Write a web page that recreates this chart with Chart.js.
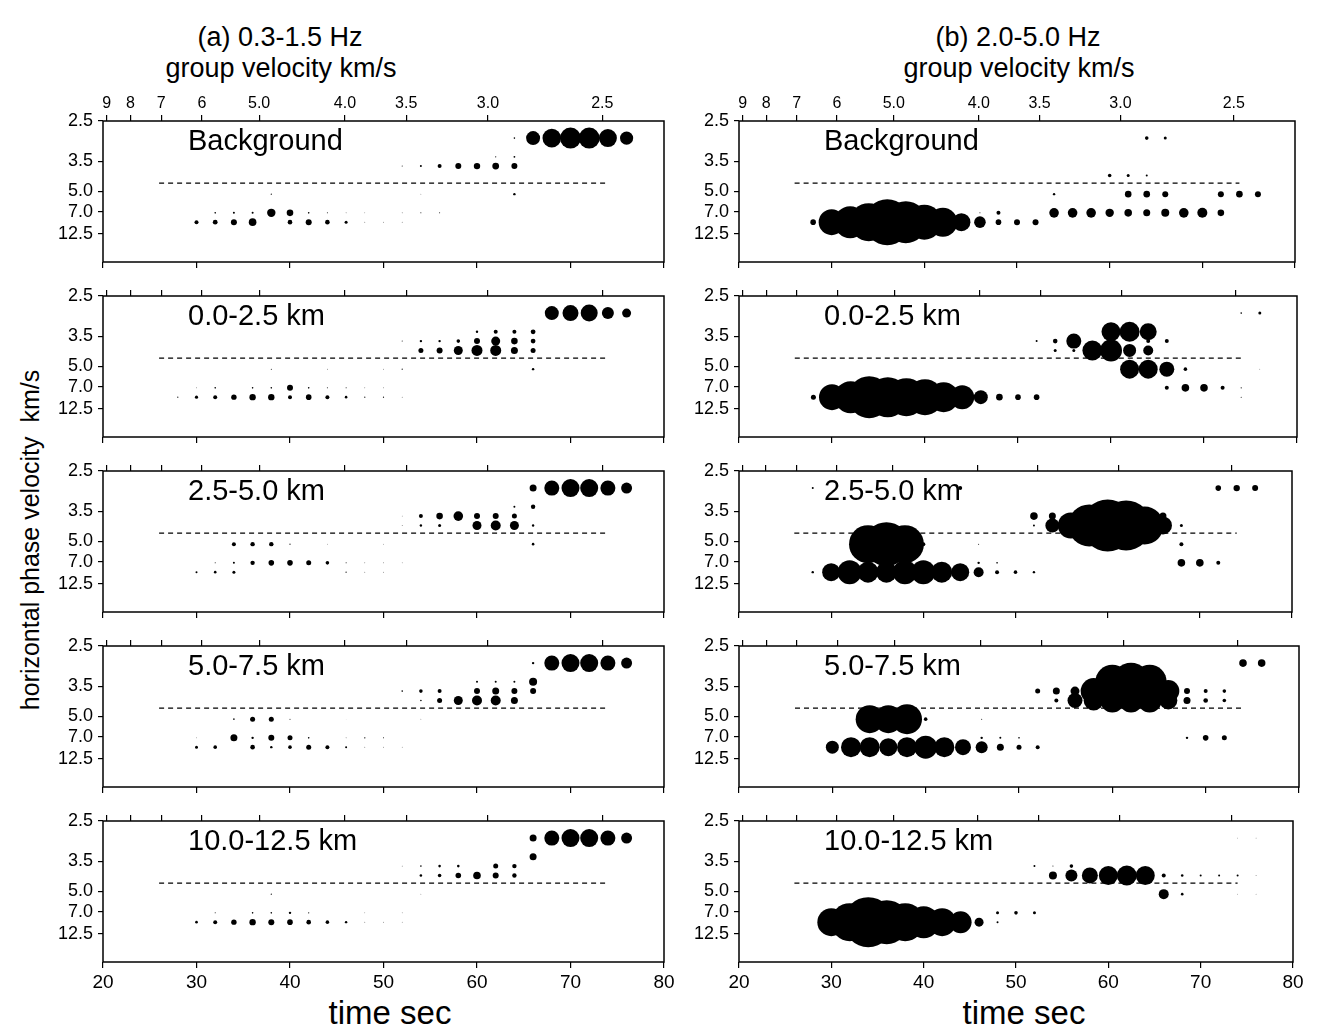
<!DOCTYPE html>
<html>
<head>
<meta charset="utf-8">
<script src="https://cdn.jsdelivr.net/npm/chart.js@4/dist/chart.umd.min.js"></script>
<style>
  html, body { margin: 0; padding: 0; background: #fff; }
  body { width: 1322px; height: 1027px; position: relative; overflow: hidden;
         font-family: "Liberation Sans", Arial, Helvetica, sans-serif; color: #000; }
  .txt { position: absolute; white-space: nowrap; transform: translate(-50%, -50%); line-height: 1; }
  canvas { position: absolute; }
</style>
</head>
<body>
<div class="txt" style="left:280px; top:37px; font-size:27px;">(a) 0.3-1.5 Hz</div>
<div class="txt" style="left:281px; top:68px; font-size:27px;">group velocity km/s</div>
<div class="txt" style="left:1018px; top:37px; font-size:27px;">(b) 2.0-5.0 Hz</div>
<div class="txt" style="left:1019px; top:68px; font-size:27px;">group velocity km/s</div>
<div class="txt" style="left:30px; top:540px; font-size:25px; transform: translate(-50%,-50%) rotate(-90deg);">horizontal phase velocity&nbsp; km/s</div>
<div class="txt" style="left:390px; top:1012px; font-size:33px;">time sec</div>
<div class="txt" style="left:1024px; top:1012px; font-size:33px;">time sec</div>

<script>
// ---------------- data ----------------
const TIME_TICKS = [20, 30, 40, 50, 60, 70, 80];
const GROUP_VEL_TICKS = [9, 8, 7, 6, 5.0, 4.0, 3.5, 3.0, 2.5];
const GROUP_VEL_LABELS = ['9', '8', '7', '6', '5.0', '4.0', '3.5', '3.0', '2.5'];
const PHASE_VEL_TICKS = [2.5, 3.5, 5.0, 7.0, 12.5];
const PHASE_VEL_LABELS = ['2.5', '3.5', '5.0', '7.0', '12.5'];
const DISTANCE_KM = 183.5;               // source distance used for group-velocity axis
const SLOWNESS_ROWS = [0.113, 0.1395, 0.166, 0.1925, 0.219, 0.2455, 0.272, 0.2985, 0.325, 0.3515]; // s/km
const REF_TIME = [26, 74];
const REF_SLOWNESS = 0.224;
const PANEL_LABELS = ['Background', '0.0-2.5 km', '2.5-5.0 km', '5.0-7.5 km', '10.0-12.5 km'];

// [time s, slowness row index, amplitude]
const lowBackground = [
  [64,9,0.8],[66,9,7],[68,9,9.3],[70,9,10.5],[72,9,10.5],[74,9,9],[76,9,6.6],
  [62,7,0.6],[64,7,0.9],
  [52,6,0.5],[54,6,1],[56,6,2],[58,6,3],[60,6,3.2],[62,6,3.4],[64,6,3],
  [38,3,0.6],[54,3,0.3],[64,3,1.2],
  [32,1,0.8],[34,1,1],[36,1,1],[38,1,4.2],[40,1,3.3],[42,1,0.8],[44,1,0.5],[46,1,0.4],[48,1,0.3],[52,1,0.4],[54,1,0.5],[56,1,0.5],
  [30,0,2],[32,0,2.4],[34,0,3],[36,0,3.8],[40,0,2.3],[42,0,3],[44,0,2.3],[46,0,1.5],[48,0,0.4],[50,0,0.4],[52,0,0.4]
];
const low0to25 = [
  [68,9,7],[70,9,8],[72,9,8.5],[74,9,6],[76,9,4.5],
  [60,7,1.2],[62,7,2],[64,7,2],[66,7,2.4],
  [52,6,0.5],[54,6,1.2],[56,6,1.2],[58,6,1.8],[60,6,3],[62,6,4.5],[64,6,3.3],[66,6,2.4],
  [54,5,2.5],[56,5,3],[58,5,4.5],[60,5,5.5],[62,5,5.5],[64,5,3.5],[66,5,2.5],
  [38,3,0.5],[44,3,0.4],[50,3,0.4],[52,3,0.6],[66,3,1.2],
  [30,1,0.4],[32,1,0.8],[36,1,0.8],[38,1,0.8],[40,1,3],[42,1,0.8],[44,1,0.5],[46,1,0.5],[48,1,0.4],[50,1,0.4],
  [28,0,0.6],[30,0,1.6],[32,0,2],[34,0,2.7],[36,0,3.2],[38,0,3.2],[40,0,2],[42,0,2.8],[44,0,2],[46,0,1.3],[48,0,0.6],[50,0,0.6],[52,0,0.4]
];
const low25to50 = [
  [66,9,3.5],[68,9,7.5],[70,9,9],[72,9,9],[74,9,7.5],[76,9,5.5],
  [64,7,1],[66,7,2.2],
  [52,6,0.3],[54,6,2],[56,6,3.3],[58,6,4.8],[60,6,3],[62,6,3],[64,6,2.5],
  [52,5,0.4],[54,5,1.2],[56,5,1.5],[60,5,4.5],[62,5,5],[64,5,4.5],[66,5,1.2],
  [34,3,2],[36,3,2.2],[38,3,2.2],[40,3,0.6],[44,3,0.3],[50,3,0.3],[66,3,1.3],
  [32,1,0.5],[34,1,1],[36,1,2.2],[38,1,2.8],[40,1,2.8],[42,1,2.5],[44,1,1.8],[46,1,0.5],[48,1,0.4],[50,1,0.4],[52,1,0.3],
  [30,0,1],[32,0,1.3],[34,0,1.5],[46,0,0.6],[48,0,0.4],[50,0,0.4]
];
const low50to75 = [
  [66,9,1.2],[68,9,7.5],[70,9,9],[72,9,9],[74,9,7.5],[76,9,5.5],
  [60,7,1],[62,7,1],[64,7,1],[66,7,4],
  [52,6,0.8],[54,6,1.8],[56,6,2],[60,6,3],[62,6,3.5],[64,6,3],[66,6,3],
  [54,5,0.8],[56,5,2.5],[58,5,4.5],[60,5,5],[62,5,5],[64,5,3.5],
  [34,3,0.8],[36,3,2.5],[38,3,2.5],[40,3,0.5],[46,3,0.2],[54,3,0.3],
  [30,1,0.3],[34,1,3.5],[36,1,1.2],[38,1,3],[40,1,2.5],[42,1,0.8],[46,1,0.4],[48,1,0.7],[50,1,0.5],
  [30,0,1.5],[32,0,1.8],[36,0,2.3],[38,0,1.2],[40,0,1.8],[42,0,2.5],[44,0,2],[46,0,1],[48,0,0.4],[50,0,0.4],[52,0,0.3]
];
const low100to125 = [
  [66,9,3.5],[68,9,7.5],[70,9,9],[72,9,9],[74,9,7.5],[76,9,5.5],
  [66,7,3.5],
  [52,6,0.4],[54,6,0.8],[56,6,1.3],[58,6,1.3],[62,6,2.5],[64,6,2.2],
  [54,5,1.3],[56,5,1.8],[58,5,2.8],[60,5,3.8],[62,5,3],[64,5,2.2],
  [38,3,0.6],[54,3,0.3],
  [32,1,0.5],[36,1,0.8],[38,1,0.8],[40,1,1.2],[42,1,0.6],[48,1,0.3],[52,1,0.3],
  [30,0,1.3],[32,0,2],[34,0,2.7],[36,0,3.2],[38,0,3],[40,0,2.8],[42,0,2.3],[44,0,1.8],[46,0,1.2],[48,0,0.4],[50,0,0.4],[52,0,0.3]
];
const highBackground = [
  [64,9,1.8],[66,9,1.5],
  [60,5,1.8],[62,5,1.5],[64,5,1],
  [54,3,1.2],[62,3,3.3],[64,3,3.3],[66,3,3],[72,3,3],[74,3,3.3],[76,3,3],
  [46,1,0.5],[48,1,2],[54,1,4.8],[56,1,4.8],[58,1,4.8],[60,1,4.2],[62,1,3.8],[64,1,3.5],[66,1,4],[68,1,4.8],[70,1,5],[72,1,3.3],
  [28,0,2.8],[30,0,13],[32,0,16],[34,0,19],[36,0,23],[38,0,21],[40,0,17.5],[42,0,14.5],[44,0,9],[46,0,5.8],[48,0,2.8],[50,0,3],[52,0,3]
];
const high0to25 = [
  [74,9,0.8],[76,9,1.5],
  [60,7,9.5],[62,7,10],[64,7,8.5],
  [52,6,1],[54,6,2.3],[56,6,7.5],[64,6,2],[66,6,2],
  [54,5,1.5],[56,5,1.5],[58,5,10],[60,5,11],[62,5,6.5],[64,5,5],
  [62,3,9.5],[64,3,9.5],[66,3,7.5],[68,3,1.8],[76,3,0.3],
  [66,1,2],[68,1,3.8],[70,1,3.8],[72,1,2],[74,1,0.6],
  [28,0,2.5],[30,0,13],[32,0,16],[34,0,21],[36,0,20],[38,0,19],[40,0,18],[42,0,15],[44,0,12],[46,0,7],[48,0,3.3],[50,0,2.8],[52,0,2.8],[74,0,0.5]
];
const high25to50 = [
  [28,9,1],[44,9,2],[72,9,2.8],[74,9,3.2],[76,9,3],
  [52,6,3.8],[54,6,3.5],[66,6,3.5],
  [52,5,1],[54,5,7],[56,5,13],[58,5,21],[60,5,26],[62,5,25],[64,5,19],[66,5,9],[68,5,1.5],
  [34,3,19],[36,3,22],[38,3,19],[40,3,2],[46,3,0.5],[68,3,2],
  [46,1,1.2],[48,1,0.8],[68,1,3.8],[70,1,3.8],[72,1,2],
  [28,0,1.2],[30,0,9],[32,0,12],[34,0,10.5],[36,0,10.5],[38,0,12],[40,0,12],[42,0,10.5],[44,0,9],[46,0,5],[48,0,2],[50,0,1.8],[52,0,1.2]
];
const high50to75 = [
  [74,9,3.8],[76,9,3.8],
  [60,7,17],[62,7,19],[64,7,17],
  [52,6,2.5],[54,6,3.5],[56,6,4.5],[58,6,13],[60,6,17],[62,6,19],[64,6,17],[66,6,11],[68,6,3],[70,6,2],[72,6,1.8],
  [54,5,2],[56,5,7.5],[58,5,10],[60,5,12],[62,5,12],[64,5,12],[66,5,9],[68,5,3.5],[70,5,2.3],[72,5,1.8],
  [34,3,14],[36,3,14],[38,3,15],[40,3,1.8],[46,3,0.5],
  [46,1,1.2],[48,1,1],[50,1,0.8],[68,1,1.2],[70,1,2.8],[72,1,2.5],
  [30,0,6.5],[32,0,10],[34,0,10],[36,0,9],[38,0,10],[40,0,11.5],[42,0,10],[44,0,8],[46,0,6],[48,0,3.5],[50,0,2.5],[52,0,2]
];
const high100to125 = [
  [74,9,0.3],[76,9,0.3],
  [52,6,1],[54,6,0.5],[56,6,1.8],
  [54,5,4],[56,5,6],[58,5,8],[60,5,9.5],[62,5,10],[64,5,9.5],[66,5,2],[68,5,1.3],[70,5,1],[72,5,1],[74,5,1],[76,5,0.4],
  [66,3,5],[68,3,1.3],[74,3,0.3],[76,3,0.3],
  [48,1,1.5],[50,1,1.8],[52,1,1.5],
  [30,0,14],[32,0,19],[34,0,25],[36,0,22],[38,0,19],[40,0,16],[42,0,14],[44,0,11],[46,0,4.5],[48,0,1]
];

const LOW_PANELS = [lowBackground, low0to25, low25to50, low50to75, low100to125];
const HIGH_PANELS = [highBackground, high0to25, high25to50, high50to75, high100to125];

// ---------------- layout ----------------
const FONT = "'Liberation Sans', Arial, Helvetica, sans-serif";
const PANEL_TOPS = [121, 296, 471, 646, 821];
const FRAME_LEFTS = [103, 739];
const FRAME_W = 561, FRAME_H = 141;
const AX_W = 70, TOP_H = 45, BOT_H = 45, PAD_R = 18;
const R_SCALE = 1.0;

const framePlugin = {
  id: 'frame',
  beforeDatasetsDraw(chart, args, opts) {
    const a = chart.chartArea, ctx = chart.ctx;
    ctx.save();
    ctx.strokeStyle = '#000';
    ctx.lineWidth = 1.5;
    ctx.strokeRect(a.left, a.top, a.right - a.left, a.bottom - a.top);
    ctx.fillStyle = '#000';
    ctx.font = '29px ' + FONT;
    ctx.textAlign = 'left';
    ctx.textBaseline = 'middle';
    ctx.fillText(opts.label, a.left + 85, a.top + 21);
    ctx.restore();
  }
};

function tickGrid(len) {
  return { display: true, drawOnChartArea: false, drawTicks: true, tickLength: len, color: '#000', lineWidth: 1.2 };
}

function makePanel(col, row, pts) {
  const cv = document.createElement('canvas');
  const W = AX_W + FRAME_W + PAD_R, H = TOP_H + FRAME_H + BOT_H;
  cv.width = W; cv.height = H;
  cv.style.left = (FRAME_LEFTS[col] - AX_W) + 'px';
  cv.style.top = (PANEL_TOPS[row] - TOP_H) + 'px';
  cv.style.width = W + 'px'; cv.style.height = H + 'px';
  document.body.appendChild(cv);
  const showTop = row === 0, showBottom = row === PANEL_TOPS.length - 1;
  new Chart(cv, {
    type: 'bubble',
    data: {
      datasets: [
        { type: 'line', data: REF_TIME.map(t => ({ x: t, y: REF_SLOWNESS })),
          borderColor: '#000', borderWidth: 1.2, borderDash: [5, 4], pointRadius: 0, fill: false, order: 2 },
        { data: pts.map(([t, r, a]) => ({ x: t, y: SLOWNESS_ROWS[r], r: a * R_SCALE })),
          backgroundColor: '#000', borderWidth: 0, hoverRadius: 0, order: 1 }
      ]
    },
    options: {
      responsive: false, animation: false, devicePixelRatio: 1, events: [],
      layout: { padding: { left: 0, right: PAD_R, top: 0, bottom: 0 } },
      plugins: { legend: { display: false }, tooltip: { enabled: false }, frame: { label: PANEL_LABELS[row] } },
      scales: {
        x: {
          type: 'linear', position: 'bottom', min: 20, max: 80,
          afterBuildTicks: s => { s.ticks = TIME_TICKS.map(v => ({ value: v })); },
          afterFit: s => { s.height = BOT_H; },
          ticks: { autoSkip: false, maxRotation: 0, minRotation: 0, padding: 3, color: '#000',
                   font: { family: FONT, size: 19 }, callback: v => showBottom ? String(v) : '' },
          grid: tickGrid(6), border: { display: false }
        },
        x2: {
          type: 'linear', axis: 'x', position: 'top', min: 20, max: 80,
          afterBuildTicks: s => { s.ticks = GROUP_VEL_TICKS.map(v => ({ value: DISTANCE_KM / v })); },
          afterFit: s => { s.height = TOP_H; },
          ticks: { autoSkip: false, maxRotation: 0, minRotation: 0, padding: 2, color: '#000',
                   font: { family: FONT, size: 16 }, callback: (v, i) => showTop ? GROUP_VEL_LABELS[i] : '' },
          grid: tickGrid(6), border: { display: false }
        },
        y: {
          type: 'linear', position: 'left', min: 0, max: 0.4,
          afterBuildTicks: s => { s.ticks = PHASE_VEL_TICKS.map(v => ({ value: 1 / v })); },
          afterFit: s => { s.width = AX_W; },
          ticks: { autoSkip: false, padding: 5, color: '#000',
                   font: { family: FONT, size: 18 }, callback: (v, i) => PHASE_VEL_LABELS[i] },
          grid: tickGrid(5), border: { display: false }
        }
      }
    },
    plugins: [framePlugin]
  });
}

LOW_PANELS.forEach((pts, i) => makePanel(0, i, pts));
HIGH_PANELS.forEach((pts, i) => makePanel(1, i, pts));
</script>
</body>
</html>
